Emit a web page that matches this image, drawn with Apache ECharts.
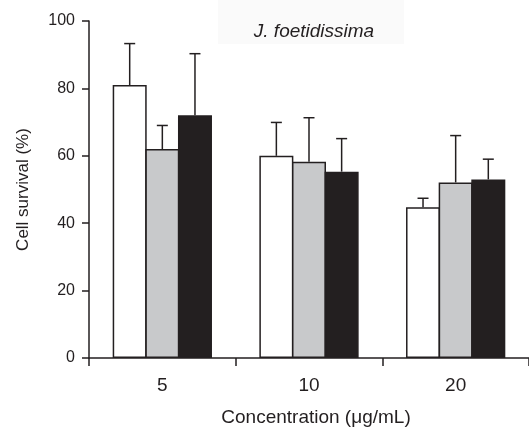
<!DOCTYPE html>
<html>
<head>
<meta charset="utf-8">
<script src="https://cdn.jsdelivr.net/npm/echarts@6/dist/echarts.min.js"></script>
<style>html,body{margin:0;padding:0;background:#fff}#c{width:529px;height:432px}</style>
</head>
<body>
<div id="c"></div>
<script>
const categories = ['5', '10', '20'];
const whiteMean = [81, 60, 44.7];
const whiteUpper = [93.3, 69.9, 47.4];
const grayMean = [62, 58.2, 52.1];
const grayUpper = [69, 71.3, 66];
const blackMean = [72, 55.3, 53];
const blackUpper = [90.3, 65.1, 59];
const yTicks = [0, 20, 40, 60, 80, 100];

const ink = '#231f20';
const font = 'Arial, "Liberation Sans", sans-serif';
const chart = echarts.init(document.getElementById('c'));

const groups = [
  { mean: whiteMean, upper: whiteUpper, color: '#ffffff' },
  { mean: grayMean, upper: grayUpper, color: '#c8c9cb' },
  { mean: blackMean, upper: blackUpper, color: '#231f20' }
];
const BW = 34;
const GAP = -0.04;

const series = [];
groups.forEach((g, gi) => {
  series.push({
    type: 'bar',
    data: g.mean,
    barWidth: BW,
    barGap: (GAP * 100) + '%',
    itemStyle: { color: g.color, borderColor: ink, borderWidth: 1.5 },
    z: 2
  });
});
groups.forEach((g, gi) => {
  series.push({
    type: 'custom',
    z: 5,
    data: categories.map((c, i) => [i, g.mean[i], g.upper[i]]),
    renderItem: function (params, api) {
      const a = api.coord([api.value(0), api.value(1)]);
      const b = api.coord([api.value(0), api.value(2)]);
      const x = a[0] + (gi - 1) * BW * (1 + GAP);
      const half = 5.5;
      return {
        type: 'group',
        children: [
          { type: 'line', shape: { x1: x, y1: a[1], x2: x, y2: b[1] }, style: { stroke: ink, lineWidth: 1.5 } },
          { type: 'line', shape: { x1: x - half, y1: b[1], x2: x + half, y2: b[1] }, style: { stroke: ink, lineWidth: 1.5 } }
        ]
      };
    }
  });
});

chart.setOption({
  animation: false,
  backgroundColor: '#ffffff',
  graphic: [
    { type: 'rect', left: 218, top: 0, shape: { width: 186, height: 44 }, style: { fill: '#fafafa' }, z: -10 },
    { type: 'text', x: 314, y: 22, style: { text: 'J. foetidissima', align: 'center', verticalAlign: 'top', fill: ink, font: 'italic 19px ' + font }, z: 10 }
  ],
  grid: { left: 89, top: 21, width: 444, bottom: 71 },
  xAxis: {
    type: 'category',
    data: categories,
    name: 'Concentration (μg/mL)',
    nameLocation: 'middle',
    nameGap: 50,
    nameTextStyle: { color: ink, fontSize: 19, fontFamily: font, padding: [0, 0, 0, 14] },
    axisLine: { lineStyle: { color: ink, width: 1.5 } },
    axisTick: { show: true, length: 8, lineStyle: { color: ink, width: 1.5 } },
    axisLabel: { color: ink, fontSize: 19, fontFamily: font, margin: 18 }
  },
  yAxis: {
    type: 'value',
    min: 0, max: 100, interval: 20,
    name: 'Cell survival (%)',
    nameLocation: 'middle',
    nameGap: 57,
    nameTextStyle: { color: ink, fontSize: 17, fontFamily: font },
    splitLine: { show: false },
    axisLine: { show: true, lineStyle: { color: ink, width: 1.5 } },
    axisTick: { show: true, length: 7, lineStyle: { color: ink, width: 1.5 } },
    axisLabel: { color: ink, fontSize: 16, fontFamily: font, margin: 14,
      formatter: v => yTicks.includes(v) ? String(v) : '' }
  },
  series: series
});
</script>
</body>
</html>
